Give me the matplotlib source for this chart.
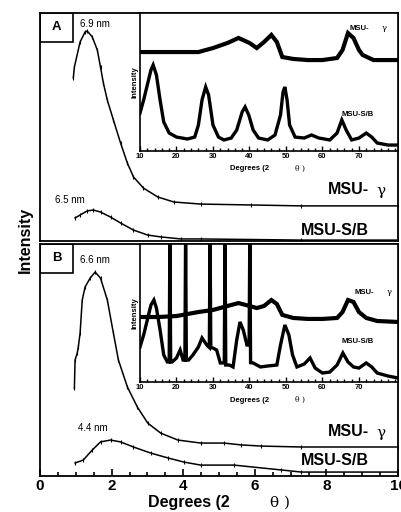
import matplotlib
matplotlib.use("Agg")
import matplotlib.pyplot as plt
from matplotlib.ticker import MultipleLocator
from matplotlib.patches import Rectangle

plt.rcParams['font.family'] = ['Liberation Sans', 'DejaVu Sans']

# ---------------- main panels (2theta 0-10 deg) ----------------
a_gamma_x = [0.93, 0.96, 1.12, 1.26, 1.32, 1.46, 1.60, 1.69, 1.77, 1.88, 2.05, 2.25, 2.44,
             2.61, 2.89, 3.29, 3.74, 4.49, 5.90, 7.30, 10.0]
a_gamma_y = [71.5, 76.3, 87.3, 91.7, 92.1, 89.5, 83.8, 76.3, 69.3, 61.8, 53.1, 43.0, 34.2,
             28.1, 23.2, 19.3, 17.1, 16.2, 15.8, 15.4, 15.4]
a_sb_x = [0.98, 1.12, 1.32, 1.49, 1.69, 1.97, 2.25, 2.61, 3.01, 3.37, 3.93, 4.49, 7.30, 10.0]
a_sb_y = [10.1, 11.4, 13.2, 13.6, 12.7, 10.5, 7.9, 4.8, 2.6, 1.8, 0.9, 0.9, 0.4, 0.4]

b_gamma_x = [0.96, 0.98, 1.04, 1.07, 1.12, 1.18, 1.26, 1.40, 1.54, 1.69, 1.88, 2.05, 2.19,
             2.44, 2.72, 3.01, 3.37, 3.85, 4.49, 5.14, 5.62, 6.18, 7.30, 10.0]
b_gamma_y = [37.9, 50.0, 53.0, 55.6, 61.6, 75.9, 81.5, 85.3, 87.9, 85.3, 75.9, 61.6, 50.0,
             38.4, 29.7, 22.8, 18.5, 15.5, 14.2, 14.2, 13.4, 12.9, 12.5, 12.5]
b_sb_x = [0.98, 1.21, 1.46, 1.69, 1.97, 2.25, 2.61, 3.09, 3.57, 4.02, 4.49, 5.42, 6.74, 7.30, 10.0]
b_sb_y = [5.6, 6.9, 11.2, 14.7, 15.5, 14.7, 12.5, 9.9, 7.8, 6.0, 4.7, 4.7, 2.6, 1.7, 1.7]

main_ticks = [0, 2, 4, 6, 8, 10]
main_tick_labels = ['0', '2', '4', '6', '8', '10']

# ---------------- insets (2theta 10-80 deg) ----------------
ia_gamma_x = [10, 15, 20, 26, 30, 34, 37, 40, 42, 44, 46, 47.5, 49, 52, 56, 60, 64, 65.5,
              67, 68.5, 70, 71, 74, 80.7]
ia_gamma_y = [71.7, 71.7, 71.7, 71.7, 74.6, 78.3, 81.9, 78.3, 74.6, 79.0, 84.1, 79.0, 68.1,
              66.7, 65.9, 65.9, 67.4, 73.2, 85.5, 81.9, 73.2, 69.6, 65.9, 65.9]
ia_sb_x = [10, 11, 12, 13, 13.6, 14.5, 15.5, 16.5, 18, 20, 23, 25, 26, 27, 28, 28.8, 30, 31.5,
           33, 35, 36.5, 38, 38.8, 39.8, 41, 42.5, 45, 47, 48.5, 49.2, 49.7, 50.3, 51, 52.5,
           55, 57, 59, 62, 64, 65.3, 66.5, 68, 70, 72, 73.5, 75, 78, 80.7]
ia_sb_y = [27.5, 37.0, 47.8, 58.7, 62.3, 55.1, 37.0, 21.0, 13.0, 10.1, 8.7, 10.1, 18.8, 37.0,
           46.4, 40.6, 18.8, 10.1, 8.0, 9.4, 15.2, 28.3, 31.9, 26.1, 15.2, 9.4, 8.0, 11.6,
           26.1, 42.8, 46.4, 37.0, 18.8, 10.1, 9.4, 11.6, 9.4, 8.0, 13.0, 22.5, 15.2, 8.0,
           9.4, 13.0, 10.1, 5.8, 4.3, 4.3]

ib_gamma_x = [10, 15, 20, 26, 30, 34, 37, 40, 42, 44, 46, 47.5, 49, 52, 56, 60, 64, 65.5,
              67, 68.5, 70, 72, 75, 80.7]
ib_gamma_y = [47.1, 47.1, 47.8, 50.7, 52.2, 55.1, 57.2, 55.1, 53.6, 55.1, 59.4, 56.5, 48.6,
              46.4, 45.7, 45.7, 46.4, 50.7, 59.4, 58.0, 50.7, 46.4, 44.2, 43.5]
ib_sb_x = [10, 11, 12, 13, 13.8, 14.5, 15.5, 16.5, 17.5, 18.0, 18.2, 18.4, 18.8, 20, 21, 21.8,
           22.3, 22.5, 22.7, 23.3, 24.5, 26, 27, 28.3, 29.0, 29.2, 29.4, 30, 31, 32, 33.1,
           33.3, 33.5, 34.5, 35.5, 36.5, 37.4, 38.3, 39.3, 39.9, 40.1, 40.3, 41, 43, 45,
           47.5, 48.5, 49.7, 50.8, 51.8, 53, 55, 56.6, 58, 60, 62, 64, 65.6, 67, 68.5, 70,
           72, 73.5, 75, 78, 80.7]
ib_sb_y = [25.4, 34.1, 44.9, 55.8, 59.4, 53.6, 37.7, 19.6, 14.5, 14.5, 110, 14.5, 14.5, 17.4,
           23.2, 15.9, 15.9, 110, 15.9, 15.9, 19.6, 25.4, 31.9, 26.8, 25.0, 110, 25.0, 24.6,
           23.2, 13.8, 13.8, 110, 12.3, 12.3, 10.9, 30.4, 43.5, 37.7, 26.8, 26.8, 110, 14.0,
           13.8, 10.9, 11.6, 12.3, 26.8, 41.3, 34.1, 19.6, 10.9, 13.0, 17.4, 10.1, 6.5, 7.2,
           12.3, 21.0, 14.5, 10.9, 10.1, 13.8, 10.9, 6.5, 4.3, 2.9]
inset_ticks = [10, 20, 30, 40, 50, 60, 70]
inset_tick_labels = ['10', '20', '30', '40', '50', '60', '70']

W, H = 401, 512
fig = plt.figure(figsize=(W / 100, H / 100), dpi=100)


def fbox(l, t, r, b):
    return [l / W, 1 - b / H, (r - l) / W, (b - t) / H]


axA = fig.add_axes(fbox(40, 13, 398, 241))
axB = fig.add_axes(fbox(40, 244, 398, 476))

for ax in (axA, axB):
    ax.set_xlim(0, 10)
    ax.set_ylim(0, 100)
    ax.set_yticks([])
    for s in ax.spines.values():
        s.set_linewidth(1.3)
    ax.xaxis.set_minor_locator(MultipleLocator(0.5))
    ax.tick_params(axis='x', which='both', direction='in', top=False)
    ax.tick_params(axis='x', which='major', length=5, width=1.2)
    ax.tick_params(axis='x', which='minor', length=3, width=1.2)

axA.set_xticks(main_ticks)
axA.tick_params(axis='x', which='both', length=0, labelbottom=False)
axB.set_xticks(main_ticks)
axB.set_xticklabels(main_tick_labels, fontsize=11, fontweight='bold')
axB.tick_params(axis='x', pad=2)

mk = dict(color='black', lw=1.1, marker='|', ms=3, mew=0.8)
axA.plot(a_gamma_x, a_gamma_y, **mk)
axA.plot(a_sb_x, a_sb_y, **mk)
axB.plot(b_gamma_x, b_gamma_y, **mk)
axB.plot(b_sb_x, b_sb_y, **mk)

# panel labels boxes
for ax, lab in ((axA, 'A'), (axB, 'B')):
    ax.add_patch(Rectangle((0, 0.875), 0.093, 0.125, transform=ax.transAxes,
                           fill=False, lw=1.2, ec='black', zorder=5))
    ax.text(0.046, 0.94, lab, transform=ax.transAxes, ha='center', va='center',
            fontsize=9.5, fontweight='bold')

tk = dict(fontsize=7, ha='left', va='center')
axA.text(1.12, 95.2, '6.9 nm', **tk)
axA.text(0.42, 18.0, '6.5 nm', **tk)
axB.text(1.12, 93.1, '6.6 nm', **tk)
axB.text(1.06, 20.7, '4.4 nm', **tk)

big = dict(fontsize=11.5, fontweight='bold', va='center')
for ax, yg, ys in ((axA, 22.4, 4.8), (axB, 19.0, 6.5)):
    ax.text(8.05, yg, 'MSU-', ha='left', **big)
    ax.text(9.4, yg - 0.5, 'γ', ha='left', fontsize=11, family='DejaVu Serif', va='center')
    ax.text(9.2, ys, 'MSU-S/B', ha='right', **big)

# main axis labels
fig.text(148 / W, 1 - 503 / H, 'Degrees (2', fontsize=11.5, fontweight='bold', ha='left', va='center')
fig.text(270 / W, 1 - 503 / H, 'θ )', fontsize=11, family='DejaVu Serif', ha='left', va='center')
fig.text(25 / W, 1 - 240 / H, 'Intensity', fontsize=11.5, fontweight='bold', rotation=90,
         ha='center', va='center')

# insets
insA = fig.add_axes(fbox(140, 13, 398, 151))
insB = fig.add_axes(fbox(140, 244, 398, 382))
for ins, gx, gy, sx, sy, top, bot in ((insA, ia_gamma_x, ia_gamma_y, ia_sb_x, ia_sb_y, 13, 151),
                                      (insB, ib_gamma_x, ib_gamma_y, ib_sb_x, ib_sb_y, 244, 382)):
    ins.set_xlim(10, 80.7)
    ins.set_ylim(0, 100)
    ins.set_yticks([])
    ins.set_xticks(inset_ticks)
    ins.set_xticklabels(inset_tick_labels, fontsize=5.5, fontweight='bold')
    ins.xaxis.set_minor_locator(MultipleLocator(2))
    ins.tick_params(axis='x', which='both', direction='in', pad=1.5)
    ins.tick_params(axis='x', which='major', length=3.5, width=1)
    ins.tick_params(axis='x', which='minor', length=2.5, width=1)
    for s in ins.spines.values():
        s.set_linewidth(1.2)
    ins.plot(gx, gy, color='black', lw=3.0, solid_joinstyle='miter')
    ins.plot(sx, sy, color='black', lw=2.4, solid_joinstyle='miter')
    ins.set_ylabel('Intensity', fontsize=5.5, fontweight='bold', labelpad=1)
    fig.text(230 / W, 1 - (bot + 18) / H, 'Degrees (2', fontsize=5.5, fontweight='bold',
             ha='left', va='center')
    fig.text(295 / W, 1 - (bot + 18) / H, 'θ )', fontsize=5.5, family='DejaVu Serif',
             ha='left', va='center')

insA.text(67.5, 89.1, 'MSU-', fontsize=5.5, fontweight='bold', va='center')
insA.text(76.3, 89.1, 'γ', fontsize=6, family='DejaVu Serif', va='center')
insA.text(65.3, 26.1, 'MSU-S/B', fontsize=5.5, fontweight='bold', va='center')
insB.text(68.9, 65.2, 'MSU-', fontsize=5.5, fontweight='bold', va='center')
insB.text(77.7, 65.2, 'γ', fontsize=6, family='DejaVu Serif', va='center')
insB.text(65.3, 29.0, 'MSU-S/B', fontsize=5.5, fontweight='bold', va='center')

fig.savefig('out.png', dpi=100)
